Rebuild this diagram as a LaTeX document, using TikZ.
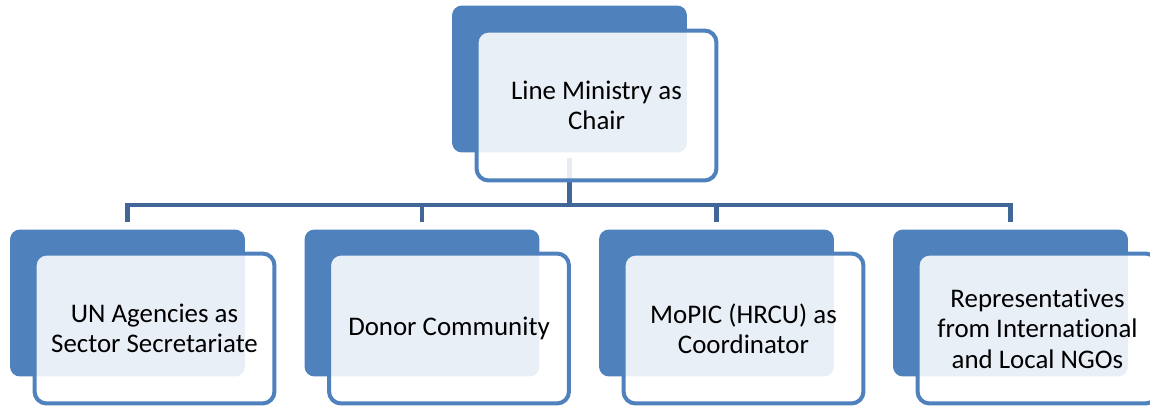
\documentclass[tikz,border=0pt]{standalone}
\usepackage{fontspec}
\setmainfont[Ligatures=NoCommon]{Carlito}
\usetikzlibrary{calc}

\definecolor{boxblue}{RGB}{79,129,189}
\definecolor{linkblue}{RGB}{64,103,152}

\begin{document}
\begin{tikzpicture}[x=0.02cm,y=-0.02cm,
	back/.style={fill=boxblue,rounded corners=0.2cm,minimum width=4.7cm,minimum height=2.94cm,inner sep=0pt},
	front/.style={draw=boxblue,line width=0.08cm,fill=white,fill opacity=0.88,text opacity=1,rounded corners=0.24cm,
		minimum width=4.8cm,minimum height=3cm,inner sep=0pt,align=center,font=\fontsize{15.3}{17.3}\selectfont},
	link/.style={draw=linkblue,line width=0.09cm}]
	\useasboundingbox (0,0) rectangle (1150,408);

	% dark back plates
	\node[back] (chair-back) at (569.5,79) {};
	\node[back] (un-back) at (127.5,303) {};
	\node[back] (donor-back) at (422,303) {};
	\node[back] (mopic-back) at (716.5,303) {};
	\node[back] (ngo-back) at (1010.5,303) {};

	% connectors
	\foreach \m in {un,donor,mopic,ngo}
		\draw[link,shorten <=0.1cm,shorten >=0.14cm] (chair-back.south) -- ++(0,52) -| (\m-back.north);

	% front boxes with text
	\node[front] (chair) at ($(chair-back)+(27,26.5)$) {Line Ministry as\\Chair};
	\node[front] (un) at ($(un-back)+(27,25.5)$) {UN Agencies as\\Sector Secretariate};
	\node[front] (donor) at ($(donor-back)+(27,25.5)$) {Donor Community};
	\node[front] (mopic) at ($(mopic-back)+(27,25.5)$) {MoPIC (HRCU) as\\Coordinator};
	\node[front] (ngo) at ($(ngo-back)+(27,25.5)$) {Representatives\\from International\\and Local NGOs};
\end{tikzpicture}
\end{document}
